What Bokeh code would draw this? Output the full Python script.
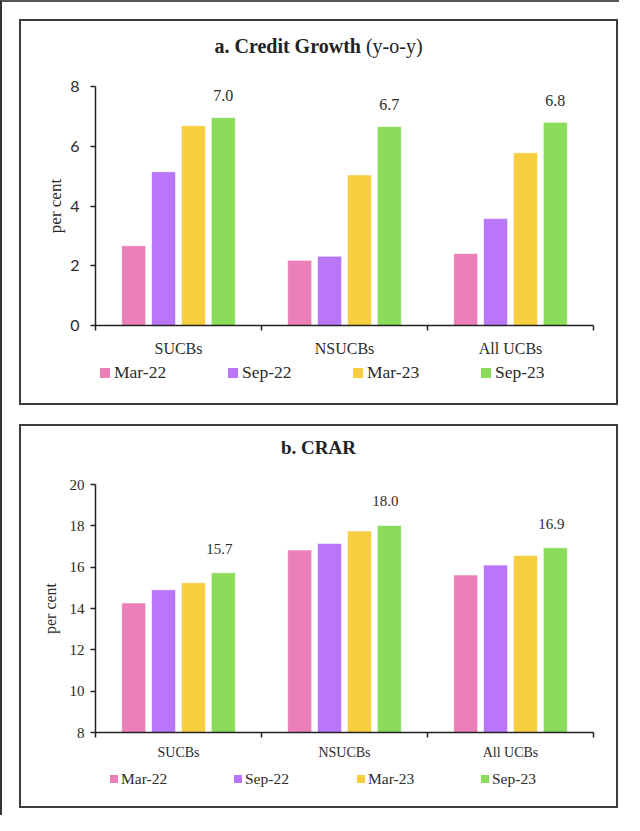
from bokeh.plotting import figure
from bokeh.models import (ColumnDataSource, FixedTicker, LabelSet, Range1d, Spacer, Div)
from bokeh.layouts import column, row
from bokeh.embed import file_html
from bokeh.resources import INLINE

# ---------------- data ----------------
categories = ["SUCBs", "NSUCBs", "All UCBs"]
periods = ["Mar-22", "Sep-22", "Mar-23", "Sep-23"]
colors = ["#EB7FB7", "#B976F8", "#F7CE40", "#8ADC5A"]

credit_mar22 = [2.67, 2.18, 2.41]
credit_sep22 = [5.15, 2.32, 3.58]
credit_mar23 = [6.69, 5.04, 5.78]
credit_sep23 = [6.96, 6.66, 6.80]

crar_mar22 = [14.27, 16.83, 15.62]
crar_sep22 = [14.91, 17.15, 16.10]
crar_mar23 = [15.25, 17.75, 16.57]
crar_sep23 = [15.73, 18.02, 16.94]

credit_yticks = [0, 2, 4, 6, 8]
crar_yticks = [8, 10, 12, 14, 16, 18, 20]

SERIF = "Liberation Serif"
SANS = "Lato"
AXIS_COLOR = "#222222"
TEXT_COLOR = "#2b2b2b"
BORDER = "2px solid #3c3c3c"
BOX_W = 599
INNER_W = 595


def make_figure(series, yticks, cfg):
    ymin, ymax = yticks[0], yticks[-1]
    p = figure(width=INNER_W, height=cfg["height"],
               x_range=Range1d(0, 3), y_range=Range1d(ymin, ymax),
               output_backend="svg", toolbar_location=None,
               min_border_left=74, min_border_right=23,
               min_border_top=cfg["top"], min_border_bottom=cfg["bottom"])
    p.xgrid.visible = False
    p.ygrid.visible = False
    p.outline_line_color = None
    p.background_fill_color = "white"
    p.border_fill_color = "white"

    offsets = [-0.27, -0.09, 0.09, 0.27]
    width = 0.145
    for k, (vals, col) in enumerate(zip(series, colors)):
        src = ColumnDataSource(dict(
            x=[i + 0.5 + offsets[k] for i in range(len(categories))],
            top=vals,
            bottom=[ymin] * len(vals)))
        p.vbar(x="x", top="top", bottom="bottom", width=width, source=src,
               fill_color=col, line_color="white", line_alpha=0.6, line_width=1)

    # value labels above the last series
    last = series[-1]
    lab_src = ColumnDataSource(dict(
        x=[i + 0.5 + offsets[-1] for i in range(len(categories))],
        y=last,
        text=[f"{v:.1f}" for v in last]))
    p.add_layout(LabelSet(x="x", y="y", text="text", source=lab_src,
                          x_offset=cfg["lab_dx"], y_offset=cfg["lab_dy"],
                          text_align="center", text_baseline="middle",
                          text_font=cfg["lab_font"], text_font_size=cfg["lab_size"],
                          text_color=TEXT_COLOR))

    ya = p.yaxis[0]
    ya.ticker = FixedTicker(ticks=yticks)
    ya.axis_line_color = AXIS_COLOR
    ya.axis_line_width = 1.5
    ya.major_tick_line_color = AXIS_COLOR
    ya.major_tick_line_width = 1.5
    ya.major_tick_in = 0
    ya.major_tick_out = 5
    ya.minor_tick_line_color = None
    ya.major_label_text_font = cfg["tick_font"]
    ya.major_label_text_font_size = cfg["tick_size"]
    ya.major_label_text_color = TEXT_COLOR
    ya.major_label_standoff = cfg["tick_standoff"]
    ya.axis_label = "per cent"
    ya.axis_label_text_font = SERIF
    ya.axis_label_text_font_style = "normal"
    ya.axis_label_text_font_size = cfg["ylab_size"]
    ya.axis_label_text_color = TEXT_COLOR
    ya.axis_label_standoff = cfg["ylab_standoff"]

    xa = p.xaxis[0]
    xa.ticker = FixedTicker(ticks=[i + 0.5 for i in range(len(categories))],
                            minor_ticks=list(range(len(categories) + 1)))
    xa.major_label_overrides = {i + 0.5: c for i, c in enumerate(categories)}
    xa.axis_line_color = AXIS_COLOR
    xa.axis_line_width = 1.5
    xa.major_tick_line_color = None
    xa.major_tick_in = 0
    xa.major_tick_out = 0
    xa.minor_tick_line_color = AXIS_COLOR
    xa.minor_tick_line_width = 1.5
    xa.minor_tick_in = 0
    xa.minor_tick_out = 5
    xa.major_label_text_font = SERIF
    xa.major_label_text_font_size = cfg["cat_size"]
    xa.major_label_text_color = TEXT_COLOR
    xa.major_label_standoff = cfg["cat_standoff"]
    return p


def legend_div(cfg):
    spans = []
    for left, per, col in zip(cfg["leg_x"], periods, colors):
        spans.append(
            f'<span style="position:absolute;left:{left}px;top:{cfg["leg_top"]}px;display:flex;'
            f'align-items:center;white-space:nowrap">'
            f'<span style="display:inline-block;width:{cfg["sq"]}px;height:{cfg["sq"]}px;'
            f'background:{col};margin-right:{cfg["sq_gap"]}px"></span>{per}</span>')
    html = (f'<div style="position:relative;width:{INNER_W}px;height:{cfg["leg_h"]}px;'
            f'box-sizing:border-box;font-family:{SERIF};'
            f'font-size:{cfg["leg_size"]};color:{TEXT_COLOR}">'
            f'<div style="position:relative">{"".join(spans)}</div></div>')
    return Div(text=html, width=INNER_W, height=cfg["leg_h"], margin=0)


def title_div(html_text, cfg):
    html = (f'<div style="width:{INNER_W}px;padding-top:{cfg["title_pad"]}px;'
            f'text-align:center;font-family:{SERIF};font-size:{cfg["title_size"]};'
            f'color:#222222;line-height:1.15">{html_text}</div>')
    return Div(text=html, width=INNER_W, height=cfg["title_h"], margin=0)


def make_panel(series, yticks, title_html, cfg):
    p = make_figure(series, yticks, cfg)
    return column(title_div(title_html, cfg), p, legend_div(cfg),
                  width=BOX_W, height=cfg["title_h"] + cfg["height"] + cfg["leg_h"],
                  styles={"border": BORDER})


cfg_a = dict(title_h=45, title_pad=14, title_size="20px",
             height=296, top=20, bottom=37,
             lab_dx=0, lab_dy=22, lab_font=SANS, lab_size="16px",
             tick_font=SANS, tick_size="16px", tick_standoff=11,
             ylab_size="17px", ylab_standoff=2, cat_size="16px", cat_standoff=9,
             leg_h=45, leg_top=-2, leg_size="17.5px", sq=10, sq_gap=4,
             leg_x=[79, 207, 332, 460])
cfg_b = dict(title_h=40, title_pad=11, title_size="19px",
             height=301, top=18, bottom=35,
             lab_dx=-4, lab_dy=24, lab_font=SERIF, lab_size="15px",
             tick_font=SERIF, tick_size="15px", tick_standoff=6,
             ylab_size="16px", ylab_standoff=8, cat_size="14px", cat_standoff=7,
             leg_h=43, leg_top=1, leg_size="15.5px", sq=8, sq_gap=3,
             leg_x=[89, 213, 336, 460])

p1 = make_panel([credit_mar22, credit_sep22, credit_mar23, credit_sep23], credit_yticks,
                "<b>a. Credit Growth</b> (y-o-y)", cfg_a)
p2 = make_panel([crar_mar22, crar_sep22, crar_mar23, crar_sep23], crar_yticks,
                "<b>b. CRAR</b>", cfg_b)

layout = column(
    Spacer(height=17),
    row(Spacer(width=17), p1),
    Spacer(height=19),
    row(Spacer(width=17), p2),
    width=619, height=815,
    styles={"border-left": "2px solid #333333", "border-top": "2px solid #555555"},
)

open("out.html", "w").write(file_html(layout, INLINE))
